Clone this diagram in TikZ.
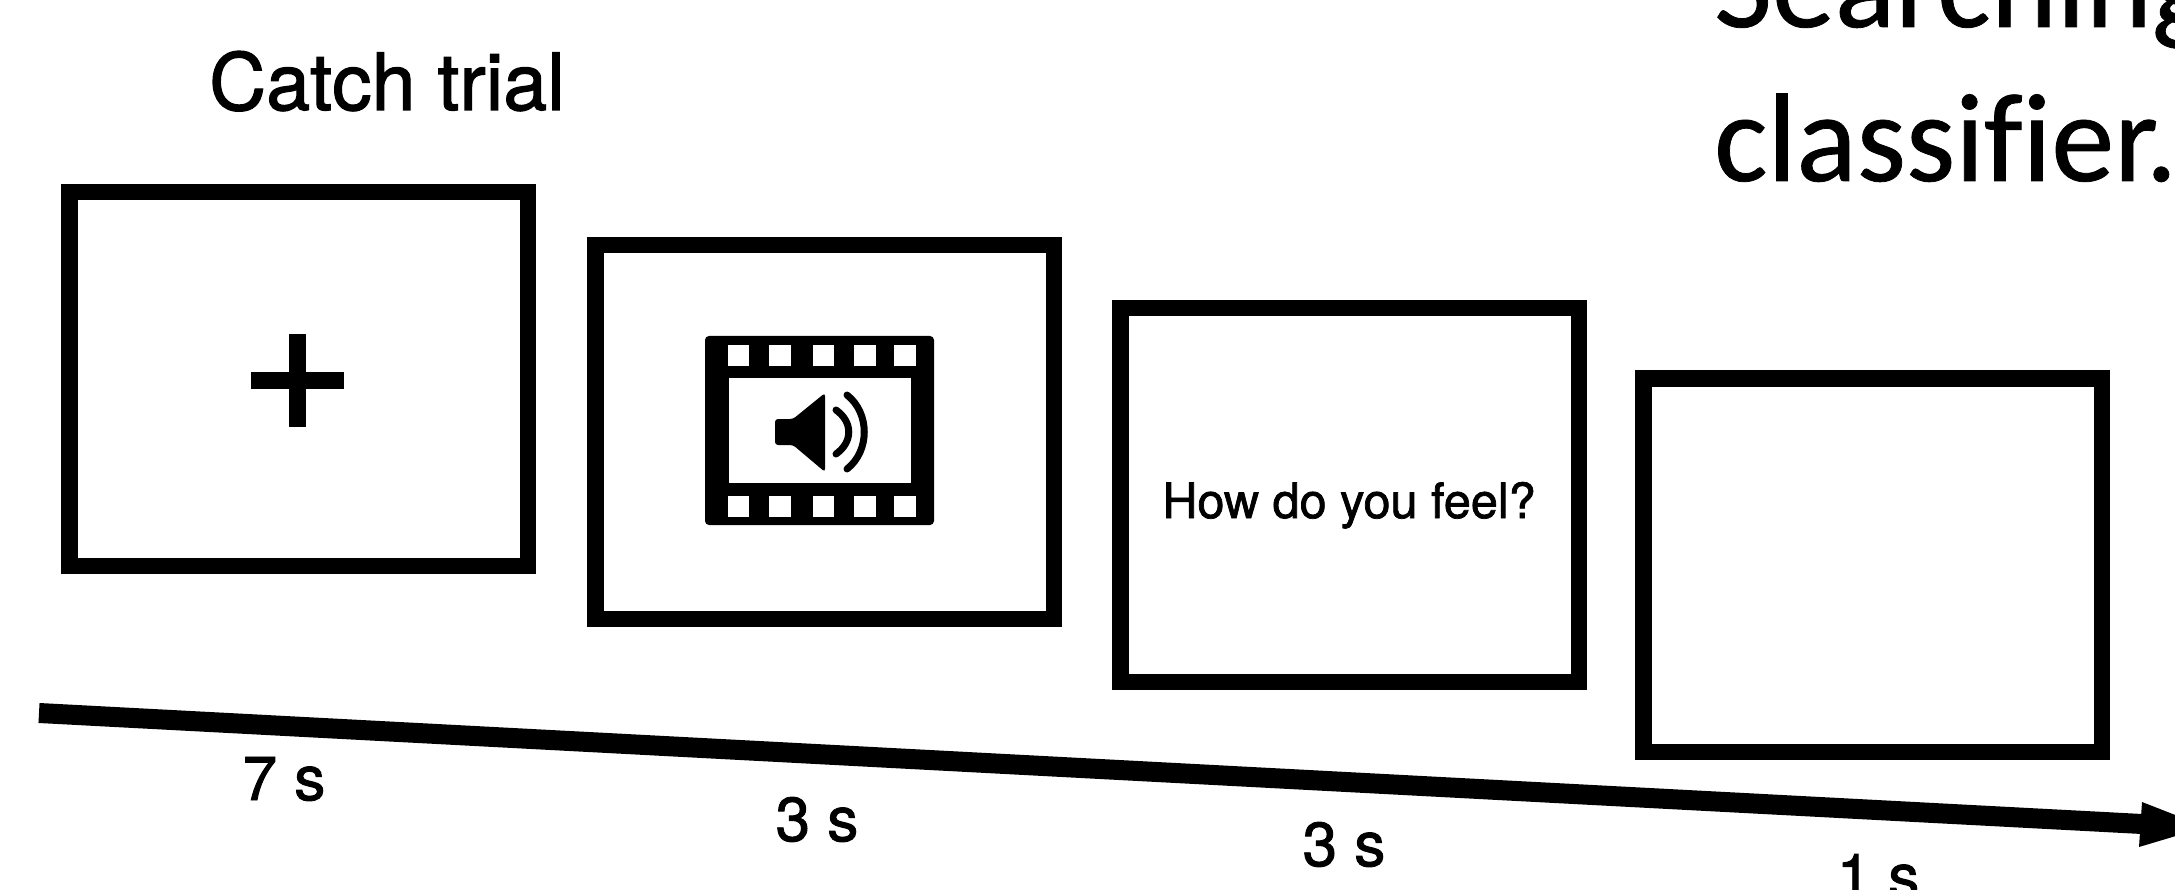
\documentclass[tikz,border=0pt]{standalone}
\usepackage{fontspec}
\setmainfont{TeX Gyre Heros}[FakeBold=1.5]
\newfontfamily\calib{Carlito}[Ligatures=NoCommon,FakeBold=0.6]
\tikzset{
 x=1pt,y=-1pt,
 frame/.style={draw=black,line width=16.5pt,fill=white,minimum width=458.5pt,minimum height=373.5pt,inner sep=0pt,outer sep=0pt},
 lab/.style={inner sep=0pt,font=\fontsize{62}{62}\selectfont,anchor=base},
 big/.style={inner sep=0pt,font=\calib\fontsize{126}{126}\selectfont,anchor=base west},
 wave/.style={draw=black,line width=7pt,line cap=round}
}
\begin{document}
\begin{tikzpicture}
\useasboundingbox (0,0) rectangle (2175,890);
\clip (0,0) rectangle (2175,890);
\fill[white] (0,0) rectangle (2175,890);
\node[big] (t1) at (1714,27) {Searching};
\node[big] (t2) at (1714,181) {classifier.};
\node[inner sep=0pt,font=\fontsize{79}{79}\selectfont,anchor=base] (title) at (387,110) {Catch trial};
\node[frame] (b1) at (298.5,379) {};
\node[frame] (b2) at (824.5,432) {};
\node[frame] (b3) at (1349.5,495) {};
\node[frame] (b4) at (1872.5,565) {};
\fill (297,334) coordinate (p1) ++(-8.5,0) rectangle ++(17,93);
\fill (251,371.5) coordinate (p2) rectangle ++(93,17);
% film icon
\fill[black,rounded corners=4pt] (705,336) rectangle (934,525);
\fill[white] (729,378) rectangle (911,483);
\foreach \xx in {203,328,458,582,702}{
  \fill[white] ({660+\xx/3},345) rectangle ++(21.5,21);
  \fill[white] ({660+\xx/3},495.7) rectangle ++(21.5,21);
}
\fill[black,rounded corners=3pt] (775,419) -- (793,419) -- (825,393) -- (825,472) -- (793,445) -- (775,445) -- cycle;
\draw[wave] (836,410) .. controls (853,422) and (853,442) .. (836,454);
\draw[wave] (847,395) .. controls (870,413) and (870,451) .. (847,469);
% time arrow
\coordinate (a0) at (39,713);
\coordinate (a1) at (2142,824);
\draw[line width=20pt,line cap=butt] (a0) -- (a1);
\fill (2142,802) -- (2206,827) -- (2139,847) -- cycle;
\node[lab] (s1) at (284,800) {7 s};
\node[lab] (s2) at (817,841) {3 s};
\node[lab] (s3) at (1344,866) {3 s};
\node[lab] (s4) at (1878,898) {1 s};
\node[inner sep=0pt,font=\fontsize{48.6}{48.6}\selectfont,anchor=base] (q) at (1349,518) {How do you feel?};
\end{tikzpicture}
\end{document}
